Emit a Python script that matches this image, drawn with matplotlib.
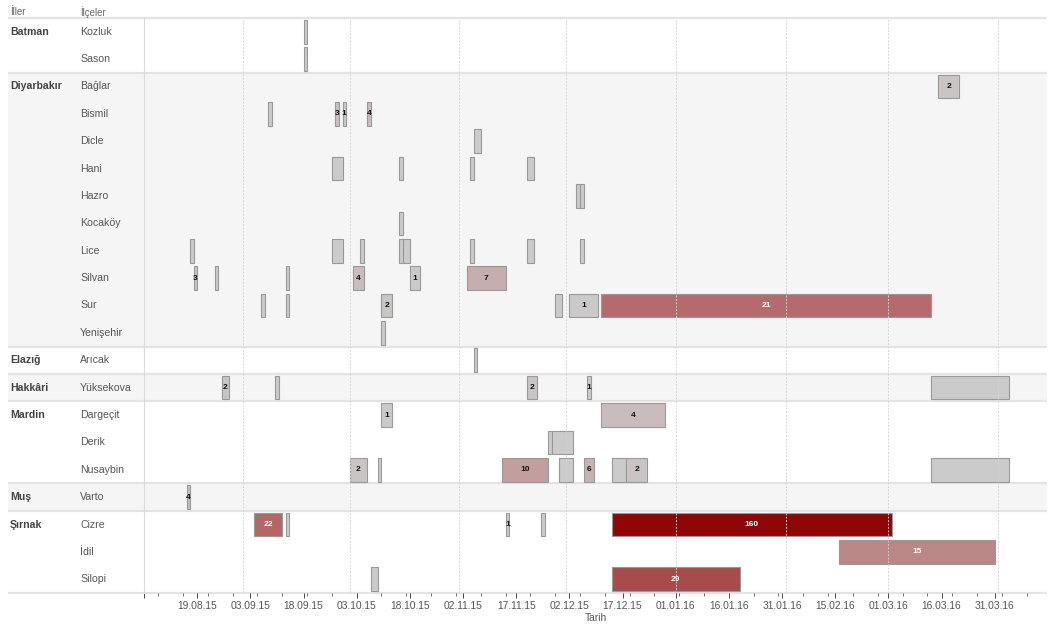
import matplotlib.pyplot as plt
import matplotlib.dates as mdates
import matplotlib.colors as mcolors
import matplotlib.transforms as mtransforms
import numpy as np
import pandas as pd

plt.rcParams['font.family'] = ['Liberation Sans', 'DejaVu Sans']

# iller ve ilceler (satir sirasi)
iller = ["Batman", "Diyarbakır", "Elazığ", "Hakkâri", "Mardin", "Muş", "Şırnak"]
ilceler = [
    ["Kozluk", "Sason"],
    ["Bağlar", "Bismil", "Dicle", "Hani", "Hazro", "Kocaköy", "Lice", "Silvan", "Sur", "Yenişehir"],
    ["Arıcak"],
    ["Yüksekova"],
    ["Dargeçit", "Derik", "Nusaybin"],
    ["Varto"],
    ["Cizre", "İdil", "Silopi"],
]

# sokaga cikma yasaklari
yer = ["Kozluk", "Sason", "Bağlar",
       "Bismil", "Bismil", "Bismil", "Bismil",
       "Dicle",
       "Hani", "Hani", "Hani", "Hani",
       "Hazro", "Hazro", "Kocaköy",
       "Lice", "Lice", "Lice", "Lice", "Lice", "Lice", "Lice", "Lice",
       "Silvan", "Silvan", "Silvan", "Silvan", "Silvan", "Silvan",
       "Sur", "Sur", "Sur", "Sur", "Sur", "Sur",
       "Yenişehir", "Arıcak",
       "Yüksekova", "Yüksekova", "Yüksekova", "Yüksekova", "Yüksekova",
       "Dargeçit", "Dargeçit", "Derik", "Derik",
       "Nusaybin", "Nusaybin", "Nusaybin", "Nusaybin", "Nusaybin", "Nusaybin", "Nusaybin", "Nusaybin",
       "Varto",
       "Cizre", "Cizre", "Cizre", "Cizre", "Cizre",
       "İdil", "Silopi", "Silopi"]
baslangic = ["2015-09-18", "2015-09-18", "2016-03-15",
             "2015-09-08", "2015-09-27", "2015-09-29", "2015-10-06",
             "2015-11-05",
             "2015-09-26", "2015-10-15", "2015-11-04", "2015-11-20",
             "2015-12-04", "2015-12-05", "2015-10-15",
             "2015-08-17", "2015-09-26", "2015-10-04", "2015-10-15", "2015-10-16", "2015-11-04", "2015-11-20", "2015-12-05",
             "2015-08-18", "2015-08-24", "2015-09-13", "2015-10-02", "2015-10-18", "2015-11-03",
             "2015-09-06", "2015-09-13", "2015-10-10", "2015-11-28", "2015-12-02", "2015-12-11",
             "2015-10-10", "2015-11-05",
             "2015-08-26", "2015-09-10", "2015-11-20", "2015-12-07", "2016-03-13",
             "2015-10-10", "2015-12-11", "2015-11-26", "2015-11-27",
             "2015-10-01", "2015-10-09", "2015-11-13", "2015-11-29", "2015-12-06", "2015-12-14", "2015-12-18", "2016-03-13",
             "2015-08-16",
             "2015-09-04", "2015-09-13", "2015-11-14", "2015-11-24", "2015-12-14",
             "2016-02-16", "2015-10-07", "2015-12-14"]
bitis = ["2015-09-19", "2015-09-19", "2016-03-21",
         "2015-09-09", "2015-09-28", "2015-09-30", "2015-10-07",
         "2015-11-07",
         "2015-09-29", "2015-10-16", "2015-11-05", "2015-11-22",
         "2015-12-05", "2015-12-06", "2015-10-16",
         "2015-08-18", "2015-09-29", "2015-10-05", "2015-10-16", "2015-10-18", "2015-11-05", "2015-11-22", "2015-12-06",
         "2015-08-19", "2015-08-25", "2015-09-14", "2015-10-05", "2015-10-21", "2015-11-14",
         "2015-09-07", "2015-09-14", "2015-10-13", "2015-11-30", "2015-12-10", "2016-03-13",
         "2015-10-11", "2015-11-06",
         "2015-08-28", "2015-09-11", "2015-11-23", "2015-12-08", "2016-04-04",
         "2015-10-13", "2015-12-29", "2015-11-27", "2015-12-03",
         "2015-10-06", "2015-10-10", "2015-11-26", "2015-12-03", "2015-12-09", "2015-12-18", "2015-12-24", "2016-04-04",
         "2015-08-17",
         "2015-09-12", "2015-09-14", "2015-11-15", "2015-11-25", "2016-03-02",
         "2016-03-31", "2015-10-09", "2016-01-19"]
sayi = [None, None, 2,
        None, 3, 1, 4,
        None,
        None, None, None, None,
        None, None, None,
        None, None, None, None, None, None, None, None,
        3, None, None, 4, 1, 7,
        None, None, 2, None, 1, 21,
        None, None,
        2, None, 2, 1, None,
        1, 4, None, None,
        2, None, 10, None, 6, None, 2, None,
        4,
        22, None, 1, None, 160,
        15, None, 29]

satirlar = [d for grup in ilceler for d in grup]
satir_no = {d: i for i, d in enumerate(satirlar)}
n_satir = len(satirlar)

renk_skala = mcolors.LinearSegmentedColormap.from_list(
    "yasak", [(0.0, "#cbcbcb"), (0.07, "#c9bdbd"), (0.23, "#c29e9e"), (0.37, "#b98383"),
              (0.5, "#b56b6b"), (0.65, "#a84b4b"), (1.0, "#8e0606")])


def renk(n):
    if n is None:
        return renk_skala(0.0)
    return renk_skala(1 - np.exp(-(n / 28.0) ** 1.3))


W, H = 1061, 625
fig = plt.figure(figsize=(W / 100, H / 100), dpi=100)
x0, x1, y_ust, y_alt = 144, 1047, 18, 593
ax = fig.add_axes([x0 / W, (H - y_alt) / H, (x1 - x0) / W, (y_alt - y_ust) / H])
ax.set_facecolor("none")

xmin = mdates.date2num(pd.Timestamp("2015-08-04"))
xmax = mdates.date2num(pd.Timestamp("2016-04-14 18:00"))
ax.set_xlim(xmin, xmax)
ax.set_ylim(n_satir, 0)

trans = mtransforms.blended_transform_factory(ax.transAxes, ax.transData)
sol = (8 - x0) / (x1 - x0)
x_il = (10 - x0) / (x1 - x0)
x_ilce = (80 - x0) / (x1 - x0)

# grup bantlari ve etiketler
sinir = 0
sinirlar = [0]
for k, (il, grup) in enumerate(zip(iller, ilceler)):
    if k % 2 == 1:
        ax.add_patch(plt.Rectangle((sol, sinir), 1 - sol, len(grup), transform=trans,
                                   facecolor="#f5f5f5", edgecolor="none", zorder=0, clip_on=False))
    ax.text(x_il, sinir + 0.5, il, transform=trans, fontsize=7.6, fontweight="bold",
            color="#444444", va="center", ha="left")
    for j, d in enumerate(grup):
        ax.text(x_ilce, sinir + j + 0.5, d, transform=trans, fontsize=7.6,
                color="#555555", va="center", ha="left")
    sinir += len(grup)
    sinirlar.append(sinir)

for s in sinirlar:
    ax.plot([sol, 1], [s, s], transform=trans, color="#e3e3e3", lw=1.6,
            clip_on=False, zorder=1, solid_capstyle="butt")

fig.text(10 / W, 1 - 12 / H, "İller", fontsize=7, color="#666666", va="center")
fig.text(80 / W, 1 - 12 / H, "İlçeler", fontsize=7, color="#666666", va="center")

# cubuklar
bas = mdates.date2num(pd.to_datetime(baslangic))
son = mdates.date2num(pd.to_datetime(bitis))
ys = np.array([satir_no[d] + 0.5 for d in yer])
renkler = [renk(n) for n in sayi]
ax.barh(ys, son - bas, left=bas, height=0.865, color=renkler,
        edgecolor="#999999", linewidth=0.8, zorder=2)
for b, e, y, n in zip(bas, son, ys, sayi):
    if n is None:
        continue
    ax.text((b + e) / 2, y, str(n), ha="center", va="center", fontsize=6,
            fontweight="bold", color="white" if n >= 15 else "#111111", zorder=5)

# ay baslari
for ay in pd.date_range("2015-09-01", "2016-04-01", freq="MS"):
    ax.axvline(mdates.date2num(ay), color="#d2d2d2", lw=0.7, ls=(0, (2, 1.5)),
               alpha=0.9, zorder=4)

# eksen
ticks = pd.date_range("2015-08-04", "2016-04-14", freq="15D")
ax.set_xticks(mdates.date2num(ticks))
ax.set_xticklabels([""] + [t.strftime("%d.%m.%y") for t in ticks[1:]])
ax.xaxis.set_minor_locator(mdates.WeekdayLocator(byweekday=mdates.SA))
ax.tick_params(axis="x", which="major", length=3.5, width=0.7, color="#444444",
               labelsize=7.4, labelcolor="#555555", pad=2)
ax.tick_params(axis="x", which="minor", length=1.8, width=0.6, color="#555555")
ax.set_yticks([])
ax.set_xlabel("Tarih", fontsize=7.4, color="#555555", labelpad=1.5)
for k in ["top", "right", "bottom"]:
    ax.spines[k].set_visible(False)
ax.spines["left"].set_color("#dadada")
ax.spines["left"].set_linewidth(0.8)

fig.savefig("out.png", dpi=100)
